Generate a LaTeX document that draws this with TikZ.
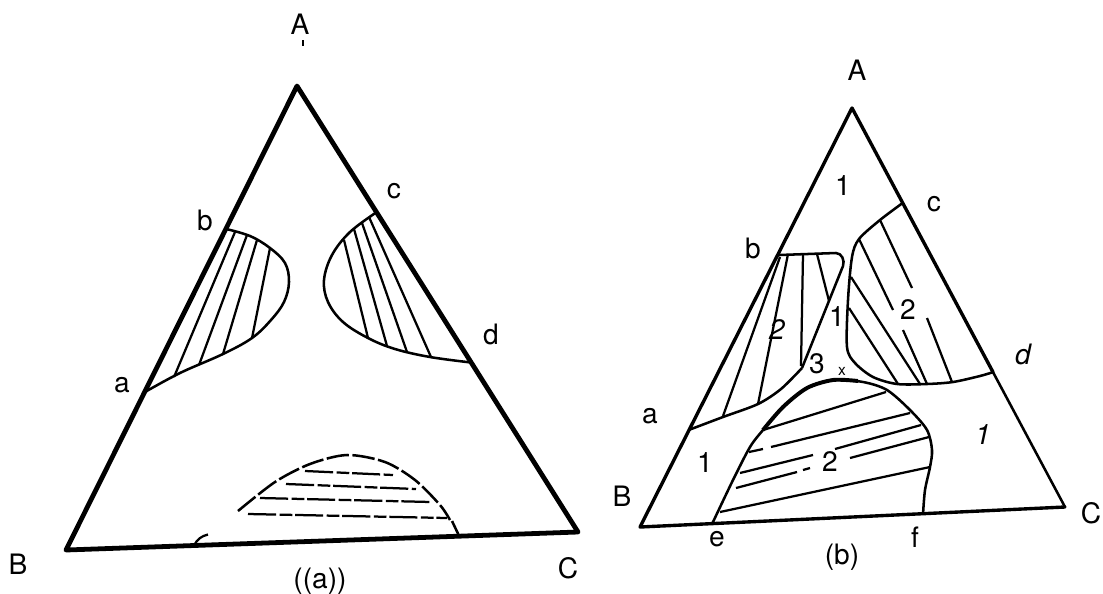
\documentclass[tikz,border=0pt]{standalone}
\usepackage{fontspec}
\setmainfont{TeX Gyre Heros}
\usetikzlibrary{calc}
\tikzset{
  side/.style={line width=3.4pt, line join=round, line cap=round},
  rim/.style={line width=2.4pt, line join=round, line cap=round},
  border/.style={line width=1.8pt, line join=round},
  tie/.style={line width=1.6pt},
  lab/.style={font=\fontsize{20}{24}\selectfont, inner sep=0pt},
}

\begin{document}
\begin{tikzpicture}[x=0.025cm,y=-0.025cm]
	\useasboundingbox (0,0) rectangle (1103,593);
	
	% (a)
	\coordinate (A1) at (297,86);
	\coordinate (B1) at (66,550);
	\coordinate (C1) at (578,532);
	\coordinate (a1) at ($(A1)!0.66!(B1)$);
	\coordinate (b1) at ($(A1)!0.308!(B1)$);
	\coordinate (c1) at ($(A1)!0.283!(C1)$);
	\coordinate (d1) at ($(A1)!0.62!(C1)$);
	
	\draw[side] (A1)--(B1)--(C1)--cycle;
	\draw[border] plot[smooth,tension=0.6] coordinates {(b1) (250,236) (270,248) (285,263) (289,282) (284,302) (271,320) (252,338) (223,354) (180,373) (a1)};
	\draw[tie] (235,232)--(174,377) (247,235)--(199,365) (257,240)--(223,354) (270,248)--(252,338);
	\draw[border] plot[smooth,tension=0.6] coordinates {(c1) (350,232) (332,255) (324,280) (328,302) (343,322) (368,338) (395,349) (430,357) (d1)};
	\draw[tie] (344,240)--(368,338) (354,229)--(387,346) (362,223)--(407,352) (369,217)--(431,357);
	\draw[border,dash pattern=on 16pt off 2.5pt] plot[smooth] coordinates {(238,511) (275,482) (310,464) (347,455) (385,462) (415,480) (440,505) (450,520)};
	\draw[tie,dash pattern=on 20pt off 2.5pt on 9pt off 2pt] (305,471)--(393,475) (286,484)--(416,489) (260,498)--(431,502) (248,514)--(447,518);
	\draw[border] (452,521)--($(B1)!0.768!(C1)$);
	\draw[tie] ($(B1)!0.25!(C1)$) to[bend left=25] ++(14,-11);
	\draw[tie] (303,40)--(303,46);
	
	\node[lab] (lA1) at (300,24) {A};
	\node[lab] (lB1) at (18,564) {B};
	\node[lab] (lC1) at (568,568) {C};
	\node[lab] (la1) at (122,385) {a};
	\node[lab] (lb1) at (205,220) {b};
	\node[lab] (lc1) at (394,191) {c};
	\node[lab] (ld1) at (491,334) {d};
	\node[lab] (cap1) at (320,581) {((a))};
	
	% (b)
	\coordinate (A2) at (852,108);
	\coordinate (B2) at (640,527);
	\coordinate (C2) at (1065,507);
	\coordinate (a2) at ($(A2)!0.768!(B2)$);
	\coordinate (b2) at ($(A2)!0.351!(B2)$);
	\coordinate (c2) at ($(A2)!0.238!(C2)$);
	\coordinate (d2) at ($(A2)!0.662!(C2)$);
	\coordinate (e2) at ($(B2)!0.17!(C2)$);
	\coordinate (f2) at ($(B2)!0.666!(C2)$);
	
	\draw[rim] (d2)--(A2)--(B2)--(C2);
	\draw[border] (C2)--(d2);
	
	\draw[border] (b2)--(836,253) to[out=0,in=70] (843,266)--(802,368);
	\draw[border] plot[smooth] coordinates {(802,368) (781,389) (758,404) (723,417) (a2)};
	\draw[tie] (780,257)--(723,416) (788,254)--(758,404) (803,254)--(801,366) (817,254)--(829,301);
	
	\draw[border] plot[smooth] coordinates {(c2) (880,220) (859,239) (852,257) (848,300) (847,347) (855,363) (873,377) (897,384) (927,384) (953,382) (980,376) (d2)};
	\draw[tie] (880,220)--(912,288) (859,239)--(893,310) (851,277)--(920,384) (849,308)--(898,384) (903,330)--(927,384) (927,318)--(952,382);
	
	\draw[border] plot[smooth] coordinates {(e2) (733,480) (750,447) (763,430) (783,407) (807,388) (833,380) (863,382) (887,390) (910,410) (927,430) (932,450) (930,467) (925,490) (f2)};
	\draw[line width=2.8pt] plot[smooth] coordinates {(763,430) (783,407) (807,388) (833,380) (858,381)};
	\draw[tie] (763,430)--(886,392);
	\draw[tie] (749,452)--(763,449) (771,447)--(910,413);
	\draw[tie] (740,473)--(813,455) (835,449)--(921,425);
	\draw[tie] (736,488)--(797,472) (803,470)--(810,468) (850,458)--(929,437);
	\draw[tie] (720,512)--(930,467);
	
	\node[lab] (lA2) at (857,70) {A};
	\node[lab] (lB2) at (622,496) {B};
	\node[lab] (lC2) at (1091,513) {C};
	\node[lab] (la2) at (650,416) {a};
	\node[lab] (lb2) at (753,248) {b};
	\node[lab] (lc2) at (934,204) {c};
	\node[lab] (ld2) at (1023,354) {\itshape d};
	\node[lab] (le2) at (717,539) {e};
	\node[lab] (lf2) at (915,537) {f};
	\node[lab] (cap2) at (842,557) {(b)};
	
	\node[lab] (r1top) at (843,186) {1};
	\node[lab] (r2b) at (777,330) {\itshape 2};
	\node[lab] (r1mid) at (837,317) {1};
	\node[lab] (r2c) at (908,310) {2};
	\node[lab] (r3) at (817,364) {3};
	\node[lab,font=\fontsize{11}{12}\selectfont] (rx) at (842,371) {x};
	\node[lab] (r1left) at (705,463) {1};
	\node[lab] (r2low) at (830,462) {2};
	\node[lab] (r1right) at (983,435) {\itshape 1};
\end{tikzpicture}
\end{document}
